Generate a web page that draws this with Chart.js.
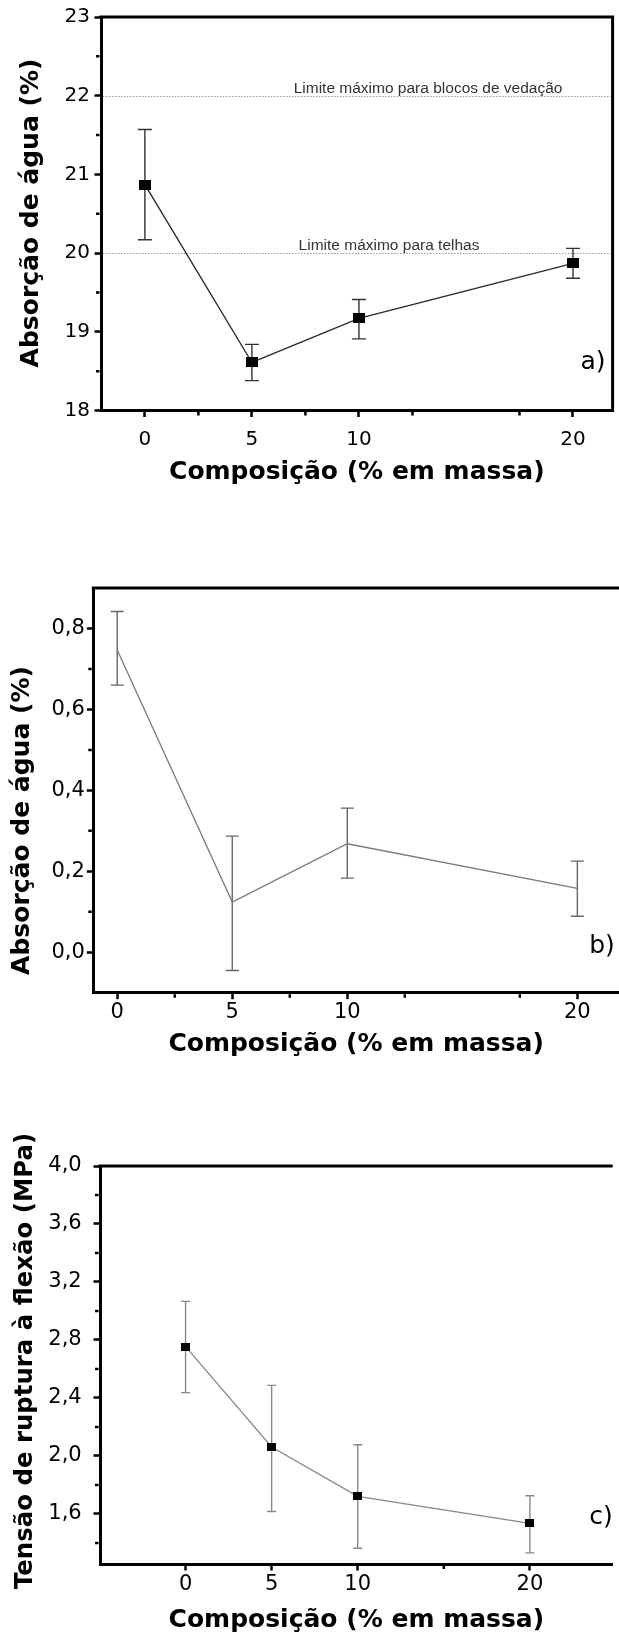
<!DOCTYPE html>
<html><head><meta charset="utf-8">
<script src="https://cdn.jsdelivr.net/npm/chart.js@4.4.1/dist/chart.umd.min.js"></script>
<style>
html,body{margin:0;padding:0;background:#fff;overflow:hidden;width:619px;height:1635px;}
.panel{position:absolute;left:0;width:619px;}
canvas{display:block;}
</style></head><body>
<div class="panel" style="top:0;height:500px"><canvas id="cA"></canvas></div>
<div class="panel" style="top:560px;height:515px"><canvas id="cB"></canvas></div>
<div class="panel" style="top:1100px;height:535px"><canvas id="cC"></canvas></div>
<script>
// ---------- data ----------
const composition = [0, 5, 10, 20];

const absorptionA     = [20.87, 18.61, 19.17, 19.87];
const absorptionAHigh = [21.57, 18.84, 19.41, 20.06];
const absorptionALow  = [20.17, 18.38, 18.91, 19.68];
const limitValuesA = [22, 20];
const limitLabelsA = ['Limite máximo para blocos de vedação', 'Limite máximo para telhas'];

const absorptionB     = [0.747, 0.124, 0.268, 0.158];
const absorptionBHigh = [0.842, 0.287, 0.356, 0.225];
const absorptionBLow  = [0.660, -0.045, 0.183, 0.089];

const strengthC     = [2.754, 2.062, 1.722, 1.535];
const strengthCHigh = [3.066, 2.487, 2.077, 1.726];
const strengthCLow  = [2.437, 1.617, 1.364, 1.332];

const xTicks = [0, 5, 10, 20];
const xMinorTicksAB = [2.5, 7.5, 12.5, 17.5];
const xMinorTicksC = [15];
const yTicksA = [18, 19, 20, 21, 22, 23];
const yMinorA = [18.5, 19.5, 20.5, 21.5, 22.5];
const yTicksB = [0, 0.2, 0.4, 0.6, 0.8];
const yMinorB = [0.1, 0.3, 0.5, 0.7];
const yTicksC = [1.6, 2.0, 2.4, 2.8, 3.2, 3.6, 4.0];
const yMinorC = [1.4, 1.8, 2.2, 2.6, 3.0, 3.4, 3.8];

const xTitle = 'Composição (% em massa)';
const yTitleA = 'Absorção de água (%)';
const yTitleB = 'Absorção de água (%)';
const yTitleC = 'Tensão de ruptura à flexão (MPa)';

// ---------- helpers ----------
const FONT = '"DejaVu Sans", "Liberation Sans", Arial, sans-serif';
function rectMarker(w, h, color) {
  const c = document.createElement('canvas');
  c.width = w; c.height = h;
  const g = c.getContext('2d');
  g.fillStyle = color; g.fillRect(0, 0, w, h);
  return c;
}
const commaFmt = v => Number(v).toFixed(1).replace('.', ',');

function build(id, spec) {
  const cv = document.getElementById(id);
  cv.width = spec.w; cv.height = spec.h;
  cv.style.width = spec.w + 'px'; cv.style.height = spec.h + 'px';

  const deco = {
    id: 'deco_' + id,
    beforeDatasetsDraw(chart) {
      const ctx = chart.ctx, xs = chart.scales.x, ys = chart.scales.y, ca = chart.chartArea;
      ctx.save();
      (spec.limits || []).forEach((v, i) => {
        const py = Math.round(ys.getPixelForValue(v)) + 0.5;
        ctx.strokeStyle = '#999'; ctx.lineWidth = 1; ctx.setLineDash([1.5, 1.5]);
        ctx.beginPath(); ctx.moveTo(ca.left + 2, py); ctx.lineTo(ca.right - 2, py); ctx.stroke();
        ctx.setLineDash([]);
        ctx.fillStyle = '#333';
        ctx.font = '15.5px "Liberation Sans", Arial, sans-serif';
        ctx.textAlign = 'left'; ctx.textBaseline = 'alphabetic';
        ctx.fillText(spec.limitLabels[i], xs.getPixelForValue(spec.limitLabelX[i]), py - 4);
      });
      ctx.strokeStyle = spec.errColor; ctx.lineWidth = spec.errWidth;
      spec.x.forEach((xv, i) => {
        const px = xs.getPixelForValue(xv);
        const pH = ys.getPixelForValue(spec.high[i]);
        const pL = ys.getPixelForValue(spec.low[i]);
        const c = spec.cap;
        ctx.beginPath();
        ctx.moveTo(px, pH); ctx.lineTo(px, pL);
        ctx.moveTo(px - c, pH); ctx.lineTo(px + c, pH);
        ctx.moveTo(px - c, pL); ctx.lineTo(px + c, pL);
        ctx.stroke();
      });
      ctx.restore();
    },
    afterDraw(chart) {
      const ctx = chart.ctx, xs = chart.scales.x, ys = chart.scales.y, ca = chart.chartArea;
      ctx.save();
      // frame (top / right)
      ctx.strokeStyle = '#000'; ctx.lineWidth = 3;
      ctx.beginPath();
      ctx.moveTo(ca.left - 1.5, ca.top); ctx.lineTo(ca.right + (spec.rightBorder ? 1.5 : 0), ca.top);
      if (spec.rightBorder) { ctx.moveTo(ca.right, ca.top); ctx.lineTo(ca.right, ca.bottom + 1.5); }
      ctx.stroke();
      // minor ticks
      ctx.lineWidth = 2.5;
      ctx.beginPath();
      spec.xMinor.forEach(v => {
        const px = xs.getPixelForValue(v);
        ctx.moveTo(px, ca.bottom + 1.5); ctx.lineTo(px, ca.bottom + 5);
      });
      spec.yMinor.forEach(v => {
        const py = ys.getPixelForValue(v);
        ctx.moveTo(ca.left - 5, py); ctx.lineTo(ca.left - 1.5, py);
      });
      ctx.stroke();
      // panel letter
      ctx.fillStyle = '#000';
      ctx.font = '25px ' + FONT;
      ctx.textAlign = 'center'; ctx.textBaseline = 'middle';
      ctx.fillText(spec.letter.text, spec.letter.x, spec.letter.y);
      // y title
      ctx.translate(spec.yTitle.x, spec.yTitle.y);
      ctx.rotate(-Math.PI / 2);
      ctx.font = 'bold ' + spec.yTitle.size + 'px ' + FONT;
      ctx.fillText(spec.yTitle.text, 0, 0);
      ctx.restore();
    }
  };

  return new Chart(cv, {
    type: 'line',
    data: {
      datasets: [{
        data: spec.x.map((xv, i) => ({ x: xv, y: spec.y[i] })),
        borderColor: spec.lineColor,
        borderWidth: spec.lineWidth,
        pointStyle: spec.marker || false,
        pointRadius: spec.marker ? 5 : 0,
        tension: 0,
        fill: false
      }]
    },
    options: {
      responsive: false, animation: false, events: [],
      layout: { padding: { top: spec.padTop, right: spec.padRight, left: 0, bottom: 0 } },
      plugins: { legend: { display: false }, tooltip: { enabled: false } },
      scales: {
        x: {
          type: 'linear', position: 'bottom', min: spec.xMin, max: spec.xMax,
          afterFit(s) { s.height = spec.xAxisHeight; },
          afterBuildTicks(s) { s.ticks = xTicks.map(v => ({ value: v })); },
          ticks: { callback: v => String(v), autoSkip: false, maxRotation: 0, minRotation: 0,
                   font: { family: FONT, size: spec.tickSize, lineHeight: 1 }, color: '#000', padding: spec.xTickPad },
          grid: { drawOnChartArea: false, drawTicks: true, tickLength: 6.5, tickWidth: 2.5, tickColor: '#000' },
          border: { display: true, color: '#000', width: 3 },
          title: { display: true, text: xTitle, color: '#000',
                   font: { family: FONT, weight: 'bold', size: 25, lineHeight: 1 },
                   padding: { top: 0, bottom: spec.xTitlePadBottom } }
        },
        y: {
          type: 'linear', position: 'left', min: spec.yMin, max: spec.yMax,
          afterFit(s) { s.width = spec.yAxisWidth; },
          afterBuildTicks(s) { s.ticks = spec.yTicks.map(v => ({ value: v })); },
          ticks: { callback: spec.yFmt, autoSkip: false,
                   font: { family: FONT, size: spec.tickSize, lineHeight: 1 }, color: '#000', padding: spec.yTickPad },
          grid: { drawOnChartArea: false, drawTicks: true, tickLength: 6.5, tickWidth: 2.5, tickColor: '#000' },
          border: { display: true, color: '#000', width: 3 }
        }
      }
    },
    plugins: [deco]
  });
}

// ---------- panel a ----------
build('cA', {
  w: 619, h: 500, padTop: 17, padRight: 5, yAxisWidth: 101, xAxisHeight: 89.5,
  xMin: -2.05, xMax: 21.85, yMin: 18, yMax: 23,
  yTicks: yTicksA, yMinor: yMinorA, xMinor: xMinorTicksAB,
  yFmt: v => String(v), tickSize: 20, xTickPad: 12.7, yTickPad: 4.5, xTitlePadBottom: 15.5,
  x: composition, y: absorptionA, high: absorptionAHigh, low: absorptionALow,
  lineColor: '#2a2a2a', lineWidth: 1.4, marker: rectMarker(12, 10, '#000'),
  errColor: '#333', errWidth: 1.4, cap: 7,
  limits: limitValuesA, limitLabels: limitLabelsA, limitLabelX: [6.95, 7.18],
  rightBorder: true,
  letter: { text: 'a)', x: 593, y: 362 },
  yTitle: { text: yTitleA, x: 31.6, y: 213, size: 25 }
});

// ---------- panel b ----------
build('cB', {
  w: 619, h: 515, padTop: 28, padRight: 0, yAxisWidth: 93.3, xAxisHeight: 82.3,
  xMin: -1.04, xMax: 21.81, yMin: -0.1, yMax: 0.9,
  yTicks: yTicksB, yMinor: yMinorB, xMinor: xMinorTicksAB,
  yFmt: commaFmt, tickSize: 21, xTickPad: 3.3, yTickPad: 2, xTitlePadBottom: 18.5,
  x: composition, y: absorptionB, high: absorptionBHigh, low: absorptionBLow,
  lineColor: '#7a7a7a', lineWidth: 1.3, marker: null,
  errColor: '#666', errWidth: 1.4, cap: 6.5,
  rightBorder: false,
  letter: { text: 'b)', x: 602, y: 386 },
  yTitle: { text: yTitleB, x: 22.5, y: 260.5, size: 25 }
});

// ---------- panel c ----------
build('cC', {
  w: 619, h: 535, padTop: 66, padRight: 0, yAxisWidth: 100, xAxisHeight: 71,
  xMin: -4.97, xMax: 24.81, yMin: 1.255, yMax: 4.0,
  yTicks: yTicksC, yMinor: yMinorC, xMinor: xMinorTicksC,
  yFmt: commaFmt, tickSize: 21, xTickPad: 4, yTickPad: 11.8, xTitlePadBottom: 2.5,
  x: composition, y: strengthC, high: strengthCHigh, low: strengthCLow,
  lineColor: '#888', lineWidth: 1.3, marker: rectMarker(9, 8, '#000'),
  errColor: '#888', errWidth: 1.4, cap: 4.5,
  rightBorder: false,
  letter: { text: 'c)', x: 601, y: 417 },
  yTitle: { text: yTitleC, x: 25.7, y: 261, size: 24.4 }
});
</script>
</body></html>
